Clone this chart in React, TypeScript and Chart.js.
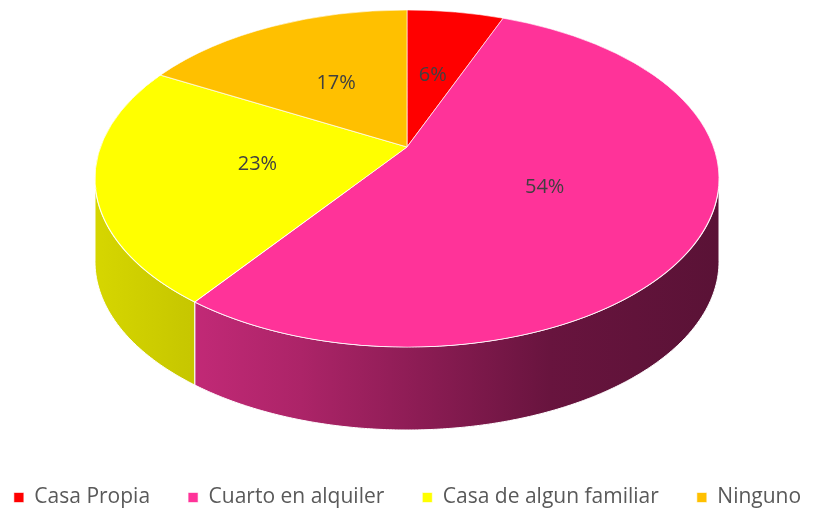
import React, { useEffect, useRef } from 'react';
import { Chart, registerables } from 'chart.js';
Chart.register(...registerables);

const categories = ['Casa Propia', 'Cuarto en alquiler', 'Casa de algun familiar', 'Ninguno'];
const values = [6, 54, 23, 17];
const topColors = ['#FF0000', '#FF3399', '#FFFF00', '#FFC000'];
const sideStops: [number, string][][] = [
  [[0, '#c80000'], [1, '#7a0000']],
  [[0, '#d02e82'], [0.14, '#c42a78'], [0.33, '#ac2468'], [0.52, '#8c1c54'], [0.73, '#68143e'], [1, '#5a1236']],
  [[0, '#d6d600'], [0.14, '#c8c800'], [1, '#8a8a00']],
  [[0, '#d09c00'], [1, '#806000']],
];

// perspective of the tilted pie (screen px)
const VX = 407; // vertex x
const VY = 147; // vertex y
const PA = 306.5; // horizontal radius factor
const PB = 162.6; // vertical radius factor
const PC = -0.187; // perspective factor
const DEPTH = 83;
const FONT = '"Open Sans", sans-serif';
const LEGEND_Y = 449;

function project(X: number, Y: number): [number, number] {
  const d = 1 + PC * Y;
  return [VX + (PA * X) / d, VY + (PB * Y) / d];
}

export default function App() {
  const ref = useRef<HTMLCanvasElement>(null);
  useEffect(() => {
    const canvas = ref.current!;
    const pie3d = {
      id: 'pie3d',
      afterLayout(chart: any) {
        const l = chart.legend;
        if (l) {
          const h = l.bottom - l.top;
          l.top = LEGEND_Y;
          l.bottom = l.top + h;
          const sum = (l.lineWidths || []).reduce((p: number, q: number) => p + q, 0);
          l.lineWidths = [sum];
          l.left -= 300;
          l.right += 300;
        }
      },
      beforeDatasetsDraw(chart: any) {
        const ctx = chart.ctx as CanvasRenderingContext2D;
        const arcs = chart.getDatasetMeta(0).data as any[];
        if (!arcs.length) return false;
        const W = chart.width;
        // sides
        const thMin = Math.asin(-PC);
        const thMax = Math.PI - thMin;
        arcs.forEach((a: any, i: number) => {
          const segs: [number, number][] = [];
          for (const off of [0, 2 * Math.PI, -2 * Math.PI]) {
            const ss = Math.max(a.startAngle + off, thMin);
            const ee = Math.min(a.endAngle + off, thMax);
            if (ee > ss) segs.push([ss, ee]);
          }
          segs.forEach(([ss, ee]) => {
            const n = Math.max(4, Math.ceil((ee - ss) * 120));
            const top: [number, number][] = [];
            for (let k = 0; k <= n; k++) {
              const t = ss + ((ee - ss) * k) / n;
              top.push(project(Math.cos(t), Math.sin(t)));
            }
            const g = ctx.createLinearGradient(VX - 312, 0, VX + 312, 0);
            sideStops[i].forEach(([p, c]) => g.addColorStop(p, c));
            ctx.beginPath();
            top.forEach(([x, y], k) => (k ? ctx.lineTo(x, y) : ctx.moveTo(x, y)));
            for (let k = top.length - 1; k >= 0; k--) ctx.lineTo(top[k][0], top[k][1] + DEPTH);
            ctx.closePath();
            ctx.fillStyle = g;
            ctx.fill();
            ctx.strokeStyle = '#ffffff';
            ctx.lineWidth = 1;
            ctx.stroke();
          });
        });
        // top face: each screen row is an affine slice of the perspective
        const a0 = arcs[0];
        const R = a0.outerRadius;
        const yTop = Math.floor(project(0, -1)[1]);
        const yBot = Math.ceil(project(0, 1)[1]);
        for (let ys = yTop; ys <= yBot; ys++) {
          const yc = ys + 0.5;
          const dd = yc - VY;
          const Y = dd / (PB - PC * dd);
          if (Y < -1 || Y > 1) continue;
          const den = 1 + PC * Y;
          const sx = PA / den / R;
          const sy = PB / (den * den) / R;
          ctx.save();
          ctx.beginPath();
          ctx.rect(0, ys, W, 1);
          ctx.clip();
          ctx.setTransform(sx, 0, 0, sy, VX - sx * a0.x, yc - sy * (a0.y + R * Y));
          arcs.forEach((a: any) => a.draw(ctx));
          ctx.restore();
        }
        // labels
        ctx.save();
        ctx.font = `20px ${FONT}`;
        ctx.fillStyle = '#404040';
        ctx.textAlign = 'center';
        ctx.textBaseline = 'middle';
        arcs.forEach((a: any, i: number) => {
          const mid = (a.startAngle + a.endAngle) / 2;
          const f = 0.49;
          const [x, y] = project(f * Math.cos(mid), f * Math.sin(mid));
          ctx.fillText(values[i] + '%', x, y);
        });
        ctx.restore();
        return false;
      },
    };
    const chart = new Chart(canvas, {
      type: 'pie',
      data: {
        labels: categories,
        datasets: [
          {
            data: values,
            backgroundColor: topColors,
            borderColor: '#ffffff',
            borderWidth: 0.6,
          } as any,
        ],
      },
      options: {
        responsive: false,
        animation: false,
        layout: { padding: 0 },
        plugins: {
          legend: {
            position: 'bottom',
            labels: {
              boxWidth: 10,
              boxHeight: 10,
              padding: 38,
              color: '#595959',
              font: { family: FONT, size: 21 },
            },
          },
          tooltip: { enabled: false },
        },
      },
      plugins: [pie3d],
    });
    return () => chart.destroy();
  }, []);
  return (
    <div style={{ position: 'fixed', left: 0, top: 0, width: 815, height: 514, background: '#ffffff' }}>
      <canvas ref={ref} width={815} height={514} style={{ display: 'block' }} />
    </div>
  );
}
